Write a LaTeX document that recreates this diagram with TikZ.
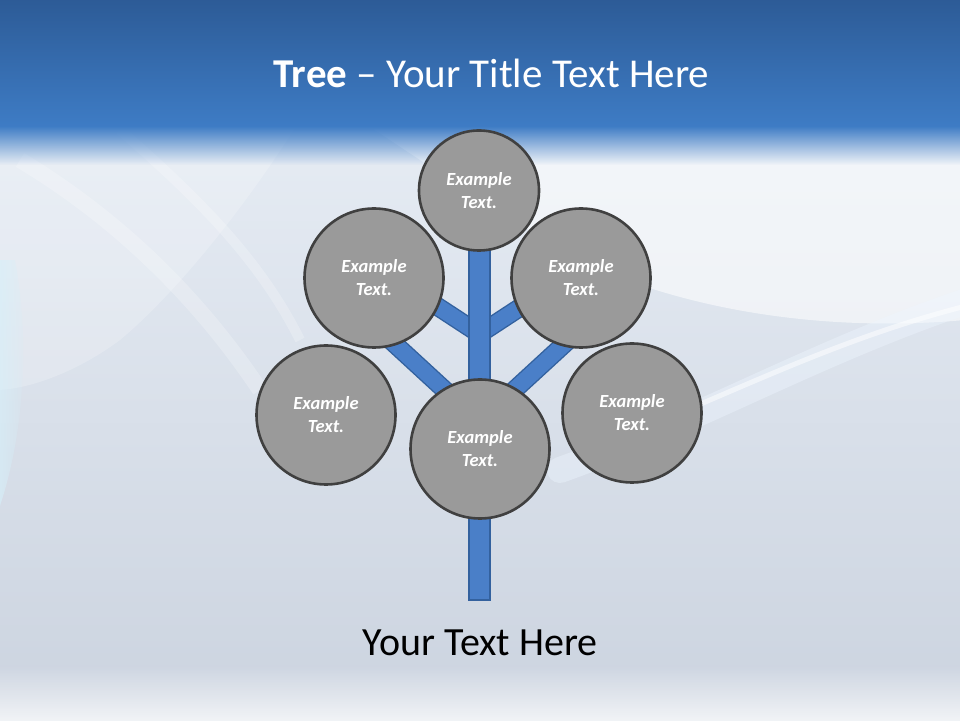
\documentclass[tikz,border=0pt]{standalone}
\usepackage{fontspec}
\setmainfont{Carlito}
\usetikzlibrary{fadings}
\definecolor{bandtop}{HTML}{2C5A95}
\definecolor{bandbot}{HTML}{3E7CC5}
\definecolor{bgtop}{HTML}{E6ECF4}
\definecolor{bgbot}{HTML}{CBD3DF}
\definecolor{streak}{HTML}{EEF6FF}
\definecolor{cyanish}{HTML}{D6F0FA}
\definecolor{branchfill}{HTML}{4A7FC8}
\definecolor{branchline}{HTML}{33619E}
\definecolor{circfill}{HTML}{9A9A9A}
\definecolor{circline}{HTML}{404040}
\tikzfading[name=fadedown, top color=transparent!0, bottom color=transparent!100]
\tikzfading[name=fadeup, top color=transparent!100, bottom color=transparent!0]
\tikzfading[name=fadeleft, left color=transparent!0, right color=transparent!100]
\begin{document}
\begin{tikzpicture}[x=1pt,y=1pt,
  bubble/.style={circle, fill=circfill, draw=circline, line width=2.6pt,
    inner sep=0pt, text=white, align=center,
    font=\bfseries\itshape\fontsize{18.5}{23}\selectfont},
  big/.style={bubble, minimum size=139pt},
  small/.style={bubble, minimum size=120pt},
  branch/.style={draw=branchline, line width=1.4pt, double=branchfill, double distance=16pt},
  trunkbox/.style={draw=branchline, line width=1.4pt, fill=branchfill, inner sep=0pt,
    minimum width=21pt, minimum height=351pt}
]
\useasboundingbox (0,0) rectangle (960,720);
% ---------- background ----------
\shade[top color=bgtop, bottom color=bgbot] (-5,-5) rectangle (965,600);
\fill[white, opacity=0.55] (360,600) -- (965,600) -- (965,400)
  .. controls (800,385) and (650,420) .. (560,470)
  .. controls (480,520) and (420,560) .. (360,600) -- cycle;
\fill[white, opacity=0.2] (-5,600) -- (300,600) .. controls (250,520) and (180,430) .. (120,380)
  .. controls (80,350) and (30,330) .. (-5,330) -- cycle;
\draw[streak, line width=26pt, opacity=0.4, line cap=round]
  (560,250) .. controls (700,300) and (820,370) .. (970,420);
\draw[white, line width=5pt, opacity=0.5, line cap=round]
  (600,275) .. controls (720,320) and (830,380) .. (970,415);
\fill[cyanish, opacity=0.7, path fading=fadeleft] (-5,200) .. controls (25,280) and (30,380) .. (15,460) -- (-5,460) -- cycle;
\draw[white, line width=16pt, opacity=0.22] (20,560) .. controls (120,500) and (200,420) .. (260,330);
\draw[white, line width=10pt, opacity=0.22] (120,590) .. controls (200,520) and (260,460) .. (300,380);
\fill[white, opacity=0.8, path fading=fadeup] (-5,-5) rectangle (965,55);
% ---------- title band ----------
\shade[top color=bandtop, bottom color=bandbot] (-5,593) rectangle (965,725);
\fill[bandbot, path fading=fadedown] (-5,594) rectangle (965,555);
\node[text=white, font=\fontsize{41}{48}\selectfont, anchor=base] (title) at (491.5,632)
  {\textbf{Tree} – Your Title Text Here};
% ---------- tree ----------
\coordinate (j1) at (479.5,386);
\coordinate (j2) at (479.5,298);
\coordinate (e1) at (374,455);
\coordinate (e2) at (374,395);
\coordinate (e3) at (585,455);
\coordinate (e4) at (585,395);
\draw[branch] (j1) -- (e1);
\draw[branch] (j2) -- (e2);
\draw[branch] (j1) -- (e3);
\draw[branch] (j2) -- (e4);
\node[trunkbox, anchor=south] (trunk) at (479.5,119.5) {};
\node[small] (top) at (479,529.5) {Example\\Text.};
\node[big] (ul) at (374,442) {Example\\Text.};
\node[big] (ur) at (581,442) {Example\\Text.};
\node[big] (ll) at (326,305) {Example\\Text.};
\node[big] (cc) at (480,271) {Example\\Text.};
\node[big] (rr) at (632,307) {Example\\Text.};
% ---------- caption ----------
\node[text=black, font=\fontsize{40}{46}\selectfont, anchor=base] (caption) at (480,65)
  {Your Text Here};
\end{tikzpicture}
\end{document}
